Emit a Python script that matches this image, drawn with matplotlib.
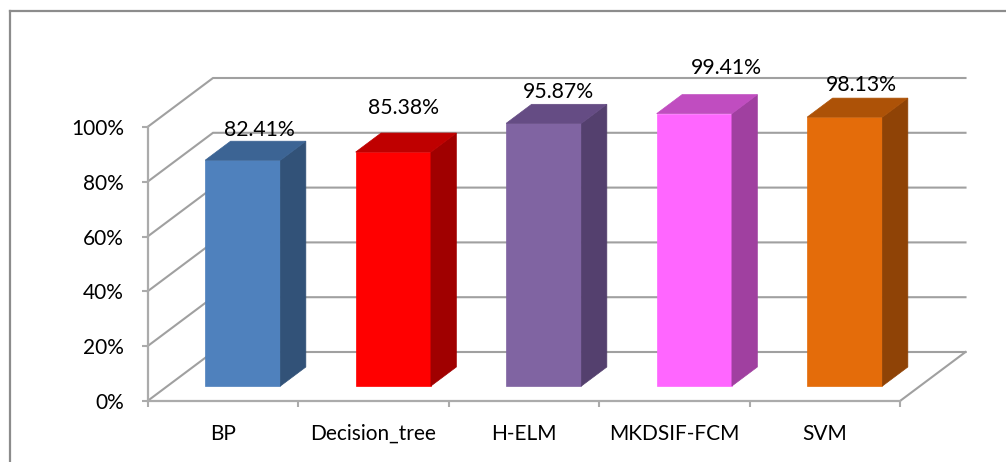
import matplotlib
import matplotlib.pyplot as plt
from matplotlib.patches import Polygon
from matplotlib.lines import Line2D

matplotlib.use('Agg')

plt.rcParams['font.family'] = ['Lato', 'DejaVu Sans']

methods = ['BP', 'Decision_tree', 'H-ELM', 'MKDSIF-FCM', 'SVM']
accuracy = [82.41, 85.38, 95.87, 99.41, 98.13]
y_ticks = [0, 20, 40, 60, 80, 100]

front_colors = ['#4F81BD', '#FF0000', '#8064A2', '#FF66FF', '#E46C0A']
top_colors = ['#3C6494', '#BF0000', '#654C84', '#C04DC0', '#AD5207']
side_colors = ['#325278', '#A00000', '#54406E', '#A040A0', '#8F4306']
grid_color = '#A0A0A0'

# pixel size of the front plane and of the floor depth
W, H = 1006, 462
left, right, top, bottom = 147.5, 900, 127, 401
px_x = (right - left) / len(methods)
px_y = (bottom - top) / 100
depth_x = 65.5 / px_x
depth_y = 49 / px_y


def project(x, v, d):
    # d=0 is the front plane and d=1 the back wall
    return x + d * depth_x, v + d * depth_y


def box(ax, x0, x1, v, d0, d1, colors):
    front = [project(x0, 0, d0), project(x1, 0, d0), project(x1, v, d0), project(x0, v, d0)]
    side = [project(x1, 0, d0), project(x1, 0, d1), project(x1, v, d1), project(x1, v, d0)]
    lid = [project(x0, v, d0), project(x1, v, d0), project(x1, v, d1), project(x0, v, d1)]
    for pts, c in zip([front, side, lid], colors):
        ax.add_patch(Polygon(pts, closed=True, facecolor=c, edgecolor=c, linewidth=0.5, clip_on=False, zorder=3))


fig = plt.figure(figsize=(W / 100, H / 100), dpi=100)
# chart frame: only the top and left edges fall inside the figure
frame_x, frame_y = 9.5 / W, 1 - 10.5 / H
fig.add_artist(Line2D([frame_x, 1], [frame_y, frame_y], transform=fig.transFigure, color='#8C8C8C', linewidth=1.6))
fig.add_artist(Line2D([frame_x, frame_x], [frame_y, 0], transform=fig.transFigure, color='#8C8C8C', linewidth=1.6))

ax = fig.add_axes([left / W, 1 - bottom / H, (right - left) / W, (bottom - top) / H])
ax.set_xlim(0, len(methods))
ax.set_ylim(0, 100)
ax.patch.set_alpha(0)
for s in ['top', 'right']:
    ax.spines[s].set_visible(False)
for s in ['left', 'bottom']:
    ax.spines[s].set_color('#ABABAB')
    ax.spines[s].set_linewidth(1.6)

# back wall gridlines with their slanted run to the value axis
for t in y_ticks:
    x_back, v_back = project(0, t, 1)
    x_end, _ = project(len(methods), t, 1)
    ax.plot([0, x_back, x_end], [t, v_back, v_back], color=grid_color, linewidth=1.5, clip_on=False, zorder=1,
            solid_joinstyle='miter')
# floor edge on the right
ax.plot(*zip(project(len(methods), 0, 0), project(len(methods), 0, 1)), color=grid_color, linewidth=1.5,
        clip_on=False, zorder=1)

ax.set_yticks(y_ticks)
ax.set_yticklabels([f'{t}%' for t in y_ticks], va='center_baseline')
ax.set_xticks(range(len(methods) + 1))
ax.set_xticklabels([])
ax.tick_params(axis='both', color='#ABABAB', width=1.5, length=4.5, labelsize=15, labelcolor='black')
ax.tick_params(axis='y', pad=12.5)

# hand placed value labels, in pixels from the back edge of each bar's top
label_dx = [-8.5, -15.5, -11, 7, -8.5]
label_dy = [13, 27, 14, 29, 15]
for i, name in enumerate(methods):
    ax.annotate(name, (i + 0.5, 0), xytext=(0, -31), textcoords='offset pixels', ha='center', va='center_baseline',
                fontsize=15, annotation_clip=False)
    x0 = i + 0.25
    x1 = i + 0.75
    colors = (front_colors[i], side_colors[i], top_colors[i])
    box(ax, x0, x1, accuracy[i], 0.306, 0.694, colors)

    lx, lv = project(i + 0.5, accuracy[i], 0.694)
    ax.annotate(f'{accuracy[i]:.2f}%', (lx, lv), xytext=(label_dx[i], label_dy[i]), textcoords='offset pixels',
                ha='center', va='center_baseline', fontsize=15.3, annotation_clip=False, zorder=5)

fig.savefig('out.png', dpi=100)
